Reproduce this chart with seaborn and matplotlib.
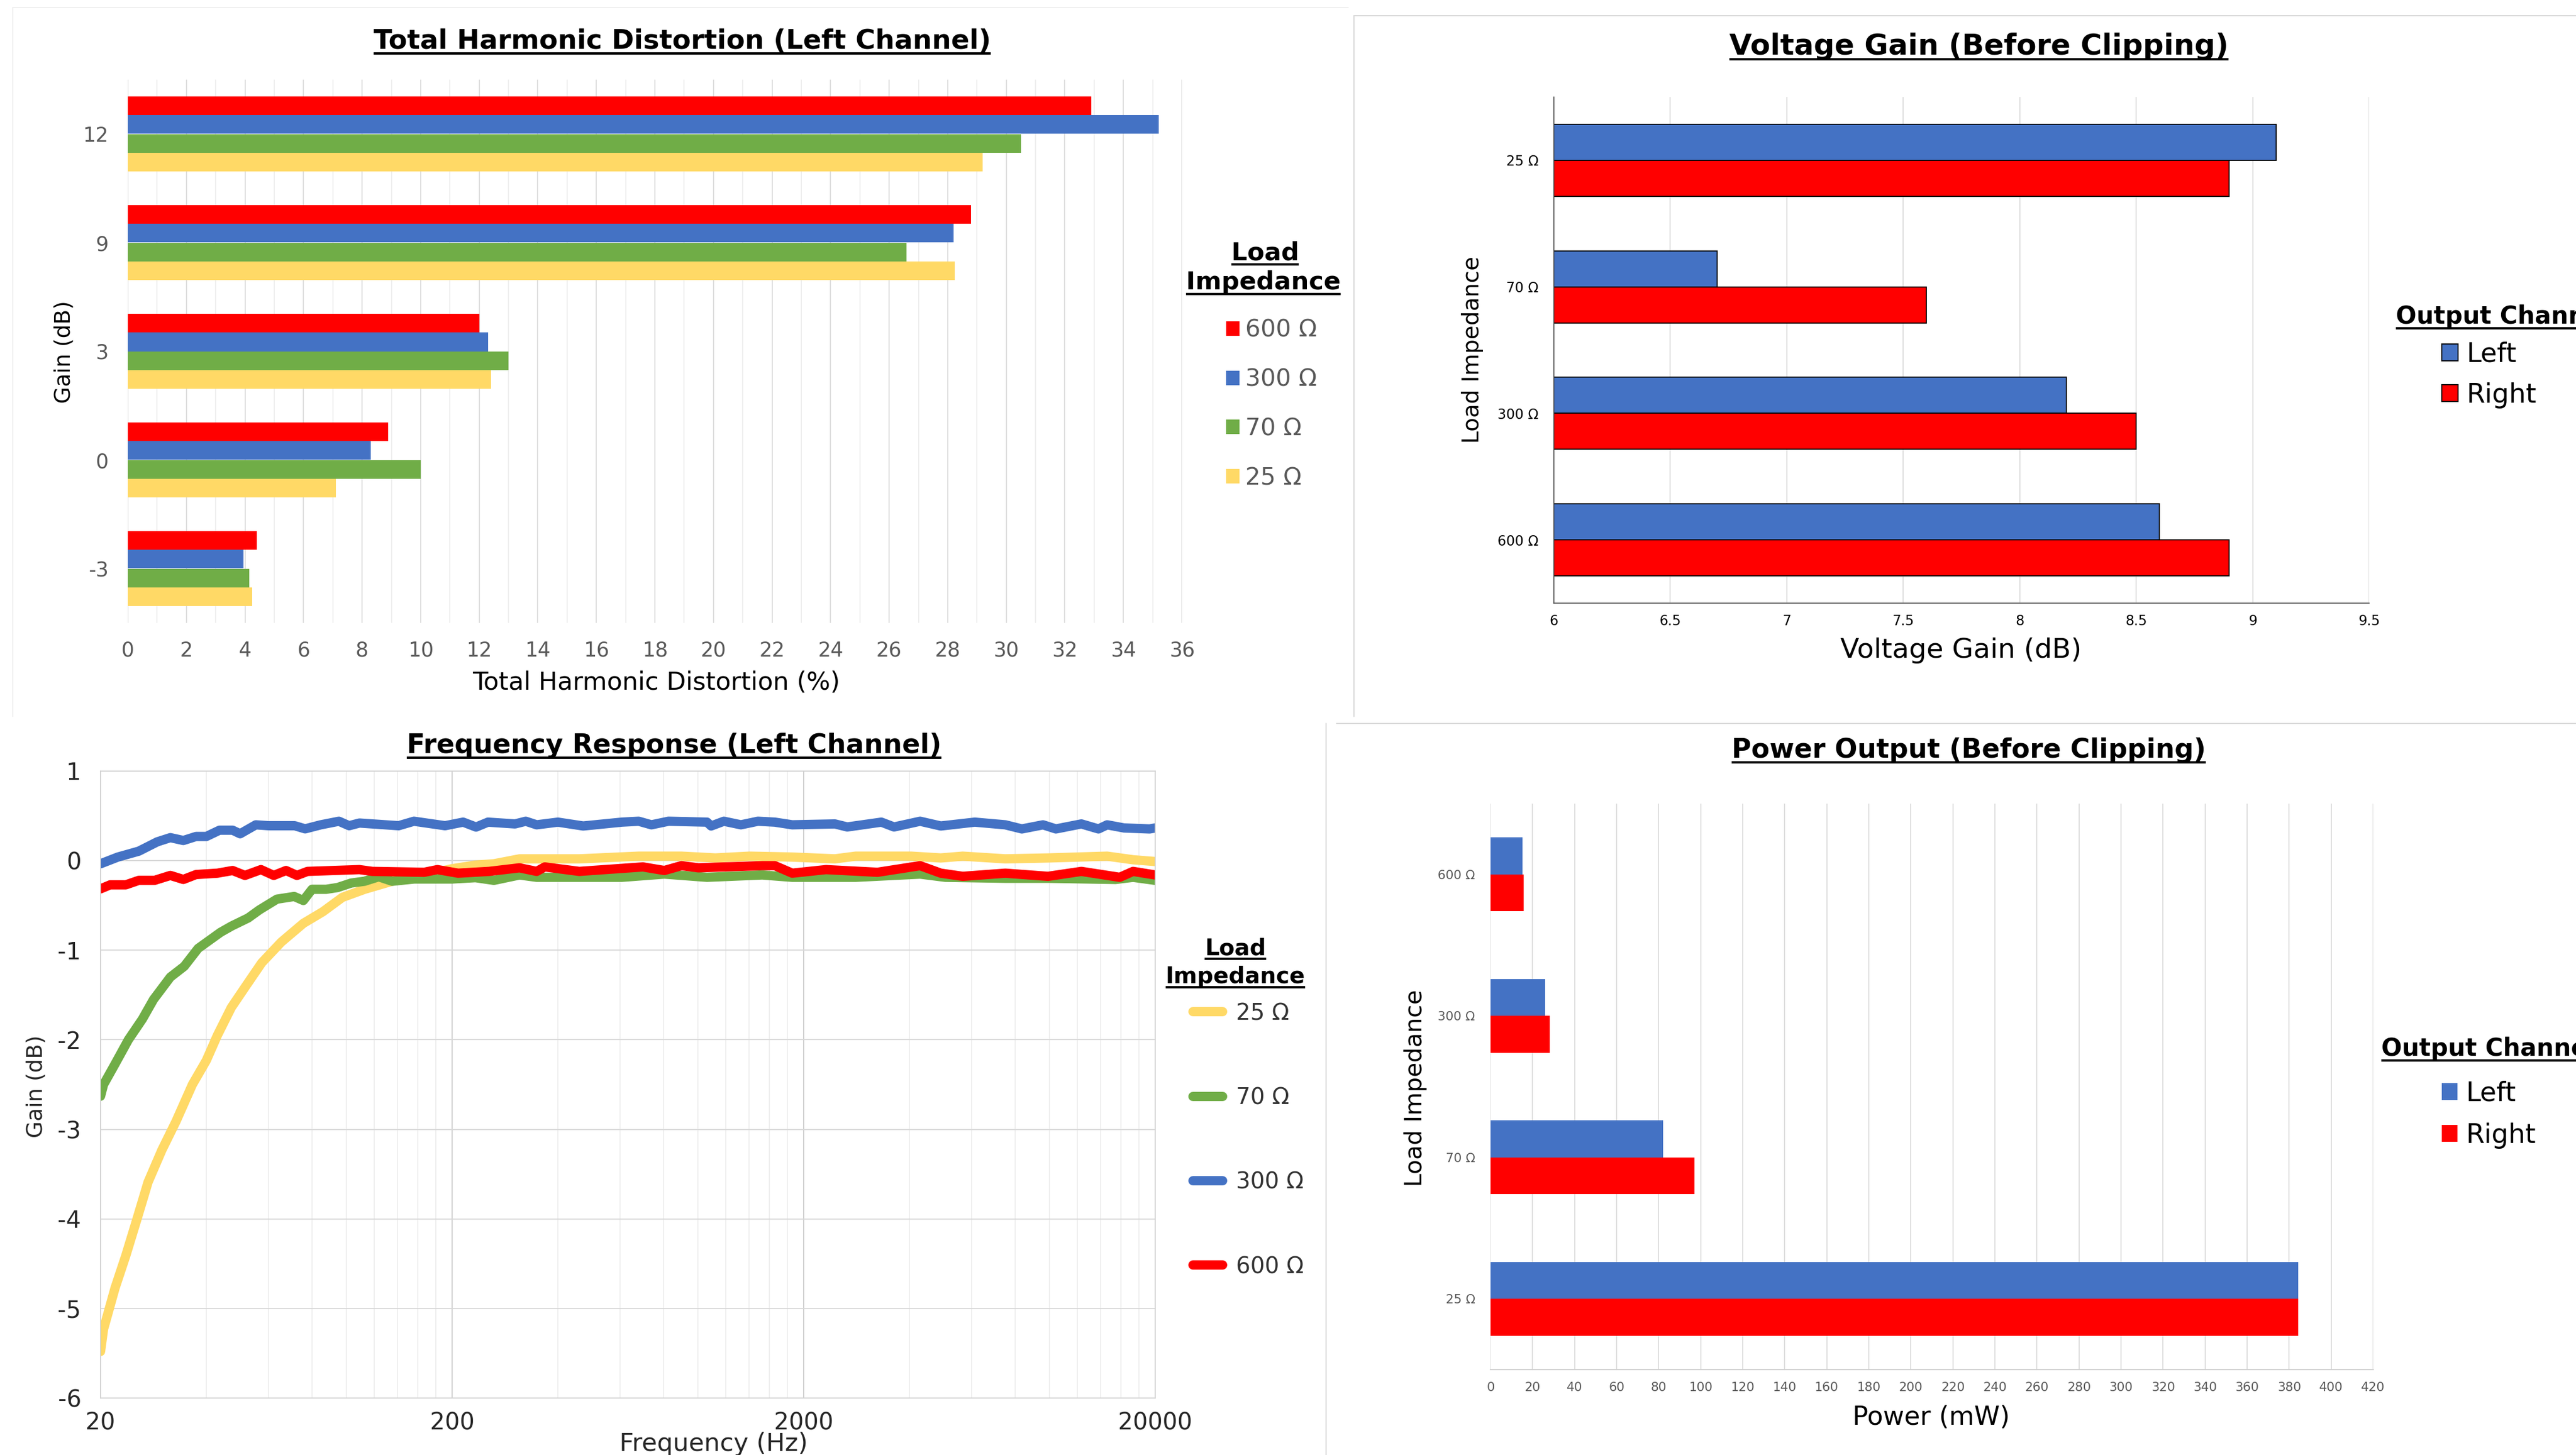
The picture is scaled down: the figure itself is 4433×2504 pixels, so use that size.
import numpy as np
import pandas as pd
import matplotlib
matplotlib.use("Agg")
import matplotlib.pyplot as plt
import seaborn as sns
from matplotlib.lines import Line2D
from matplotlib.patches import Patch
from matplotlib.ticker import MultipleLocator, FixedLocator, FixedFormatter, NullFormatter

# ---------------- data ----------------
thd_gain_levels = ["12", "9", "3", "0", "-3"]
thd_loads = ["600 Ω", "300 Ω", "70 Ω", "25 Ω"]
thd_600 = [32.9, 28.8, 12.0, 8.9, 4.4]
thd_300 = [35.2, 28.2, 12.3, 8.3, 3.95]
thd_70 = [30.5, 26.6, 13.0, 10.0, 4.15]
thd_25 = [29.2, 28.25, 12.4, 7.1, 4.25]

vg_loads = ["25 Ω", "70 Ω", "300 Ω", "600 Ω"]
vg_left = [9.1, 6.7, 8.2, 8.6]
vg_right = [8.9, 7.6, 8.5, 8.9]

pw_loads = ["600 Ω", "300 Ω", "70 Ω", "25 Ω"]
pw_left = [15.1, 26.0, 82.0, 384.3]
pw_right = [15.8, 28.2, 97.1, 384.3]

fr_loads = ["25 Ω", "70 Ω", "300 Ω", "600 Ω"]
fr25_f = [20, 20.4, 22.0, 23.6, 25.4, 27.3, 29.9, 32.8, 36.5, 40.0, 43.0, 47.1, 51.6, 57.5,
          65.3, 75.5, 85.8, 97.5, 112.7, 135, 162, 200, 233, 263, 311, 367, 460, 679, 898,
          1122, 1403, 1856, 2454, 2813, 4045, 4910, 5670, 7494, 9910, 14600, 17300, 20000]
fr25_g = [-5.48, -5.23, -4.77, -4.41, -4.00, -3.59, -3.23, -2.91, -2.50, -2.23, -1.95, -1.64,
          -1.41, -1.14, -0.91, -0.70, -0.57, -0.41, -0.32, -0.23, -0.17, -0.09, -0.05, -0.035,
          0.02, 0.02, 0.02, 0.05, 0.05, 0.03, 0.05, 0.04, 0.02, 0.05, 0.05, 0.03, 0.05, 0.02,
          0.03, 0.05, 0.01, -0.01]
fr70_f = [20, 20.4, 22.0, 24.0, 26.3, 28.3, 31.6, 34.6, 37.9, 43.9, 47.2, 52.6, 56.6, 63.5,
          71.1, 75.5, 79.9, 87.6, 94.5, 103.3, 112.7, 123.7, 135.1, 156, 200, 233, 263, 311,
          348, 608, 803, 1062, 1525, 1856, 2813, 4288, 5060, 7494, 9910, 15420, 17300, 20000]
fr70_g = [-2.63, -2.50, -2.27, -2.00, -1.77, -1.55, -1.30, -1.18, -0.98, -0.80, -0.73, -0.64,
          -0.55, -0.43, -0.40, -0.445, -0.32, -0.32, -0.30, -0.25, -0.23, -0.18, -0.23, -0.205,
          -0.205, -0.19, -0.22, -0.16, -0.186, -0.186, -0.15, -0.186, -0.16, -0.186, -0.186,
          -0.15, -0.186, -0.197, -0.197, -0.21, -0.186, -0.22]
fr300_f = [20, 22.4, 25.7, 29.0, 31.6, 34.4, 37.4, 40.0, 43.6, 47.5, 49.9, 55.3, 60.2, 71.3,
           76.4, 84.6, 95.3, 101.9, 109, 140.9, 155.8, 191, 215, 234, 253, 302, 324, 348, 400,
           472, 608, 679, 738, 825, 1062, 1091, 1186, 1326, 1482, 1656, 1856, 2454, 2661, 3327,
           3615, 4288, 4910, 6137, 7494, 8350, 9590, 10436, 12330, 13790, 14600, 16300, 19280,
           20000]
fr300_g = [-0.035, 0.04, 0.106, 0.21, 0.257, 0.225, 0.27, 0.27, 0.34, 0.34, 0.30, 0.40, 0.39,
           0.39, 0.355, 0.40, 0.44, 0.39, 0.42, 0.39, 0.44, 0.39, 0.43, 0.375, 0.43, 0.41, 0.44,
           0.40, 0.43, 0.387, 0.43, 0.44, 0.40, 0.44, 0.43, 0.387, 0.44, 0.40, 0.44, 0.43, 0.40,
           0.41, 0.376, 0.43, 0.376, 0.44, 0.387, 0.43, 0.40, 0.354, 0.40, 0.354, 0.41, 0.354,
           0.40, 0.365, 0.354, 0.365]
fr600_f = [20, 21.3, 23.6, 25.7, 28.5, 31.6, 34.4, 37.4, 43.0, 47.5, 51.5, 57.2, 62.2, 67.4,
           72.4, 77.6, 109, 118.7, 166.6, 181.7, 208, 255, 311, 348, 367, 460, 642, 698, 803,
           898, 1003, 1525, 1656, 1856, 2316, 3244, 4288, 4910, 5670, 7494, 9910, 12330, 15850,
           17300, 20000]
fr600_g = [-0.315, -0.27, -0.27, -0.22, -0.22, -0.165, -0.21, -0.155, -0.14, -0.11, -0.165,
           -0.10, -0.165, -0.11, -0.165, -0.12, -0.10, -0.12, -0.13, -0.10, -0.14, -0.12, -0.08,
           -0.12, -0.07, -0.12, -0.08, -0.07, -0.11, -0.056, -0.08, -0.056, -0.056, -0.14, -0.10,
           -0.13, -0.056, -0.14, -0.175, -0.14, -0.175, -0.12, -0.186, -0.12, -0.16]

fr_xticks = [20, 200, 2000, 20000]
fr_xticklabels = ["20", "200", "2000", "20000"]

# ---------------- style ----------------
RED, BLUE, GREEN, YELLOW = "#FF0000", "#4472C4", "#70AD47", "#FFD966"
sns.set_theme(style="white")
plt.rcParams["font.family"] = ["DejaVu Sans"]
plt.rcParams["axes.unicode_minus"] = False

W, H = 4433, 2504
fig = plt.figure(figsize=(W / 100, H / 100), dpi=100)
fig.patch.set_facecolor("white")


def add_ax(rect):
    x0, y0, x1, y1 = rect
    return fig.add_axes([x0 / W, 1 - y1 / H, (x1 - x0) / W, (y1 - y0) / H])


def place_label(ax, rect, which, px, py):
    x0, y0, x1, y1 = rect
    fx = (px - x0) / (x1 - x0)
    fy = (y1 - py) / (y1 - y0)
    if which == "x":
        ax.xaxis.set_label_coords(fx, fy)
        ax.xaxis.label.set_va("center")
        ax.xaxis.label.set_ha("center")
    else:
        ax.yaxis.set_label_coords(fx, fy)
        ax.yaxis.label.set_va("center")
        ax.yaxis.label.set_ha("center")


underlines = []


def utext(x, yb, s, size, ha="center", off=8, thick=4):
    t = fig.text(x / W, 1 - yb / H, s, fontsize=size, fontweight="bold", ha=ha,
                 va="baseline", color="black")
    underlines.append((t, yb + off, thick))
    return t


def legend_px(ax, handles, labels, left, center, fs, spacing, hl, hh, pad, color):
    leg = ax.legend(handles, labels, loc="center left",
                    bbox_to_anchor=(left / W, 1 - center / H), bbox_transform=fig.transFigure,
                    frameon=False, fontsize=fs, labelspacing=spacing, handlelength=hl,
                    handleheight=hh, handletextpad=pad, borderpad=0, borderaxespad=0)
    for t in leg.get_texts():
        t.set_color(color)
    return leg


# ---------------- panel borders ----------------
def fline(xs, ys, color="#d9d9d9", lw=2):
    fig.add_artist(Line2D([x / W for x in xs], [1 - y / H for y in ys], color=color,
                          lw=lw * 0.72, transform=fig.transFigure))


fline([22, 22], [13, 1233], color="#efefef")
fline([22, 2320], [13, 13], color="#efefef")
fline([2330, W], [27, 27])
fline([2330, 2330], [27, 1233])
fline([2300, W], [1245, 1245])
fline([2282, 2282], [1245, H])

# ---------------- THD chart ----------------
r1 = (220, 137, 2034, 1072)
ax1 = add_ax(r1)
thd_df = pd.DataFrame({
    "gain": thd_gain_levels * 4,
    "load": [l for l in thd_loads for _ in thd_gain_levels],
    "thd": thd_600 + thd_300 + thd_70 + thd_25,
})
thd_pal = dict(zip(thd_loads, [RED, BLUE, GREEN, YELLOW]))
sns.barplot(data=thd_df, x="thd", y="gain", hue="load", order=thd_gain_levels,
            hue_order=thd_loads, palette=thd_pal, orient="h", width=0.69, saturation=1,
            linewidth=0, errorbar=None, legend=False, ax=ax1)
ax1.set_xlim(0, 36)
ax1.set_ylim(4.5, -0.5)
ax1.xaxis.set_major_locator(MultipleLocator(2))
ax1.xaxis.set_minor_locator(MultipleLocator(1))
ax1.grid(axis="x", which="major", color="#d9d9d9", lw=1.2)
ax1.grid(axis="x", which="minor", color="#ececec", lw=1.2)
ax1.set_axisbelow(True)
for s in ax1.spines.values():
    s.set_visible(False)
ax1.tick_params(axis="both", which="both", length=0, labelsize=25, labelcolor="#595959")
ax1.tick_params(axis="x", pad=22)
ax1.tick_params(axis="y", pad=24)
ax1.set_xlabel("Total Harmonic Distortion (%)", fontsize=31, color="black")
ax1.set_ylabel("Gain (dB)", fontsize=27, color="black")
place_label(ax1, r1, "x", 1129, 1175)
place_label(ax1, r1, "y", 110, 606)
utext(1174, 84, "Total Harmonic Distortion (Left Channel)", 33.5)
utext(2177, 447, "Load", 31)
utext(2174, 498, "Impedance", 31)
legend_px(ax1, [Patch(facecolor=thd_pal[l], lw=0) for l in thd_loads], thd_loads,
          2110, 696, 29.6, 1.09, 0.56, 0.56, 0.24, "#595959")

# ---------------- Voltage gain chart ----------------
r2 = (2674, 167, 4077, 1038)
ax2 = add_ax(r2)
vg_df = pd.DataFrame({
    "load": vg_loads * 2,
    "channel": ["Left"] * 4 + ["Right"] * 4,
    "gain": vg_left + vg_right,
})
ch_pal = {"Left": BLUE, "Right": RED}
sns.barplot(data=vg_df, x="gain", y="load", hue="channel", order=vg_loads,
            hue_order=["Left", "Right"], palette=ch_pal, orient="h", width=0.57,
            saturation=1, edgecolor="black", linewidth=1.3, errorbar=None, legend=False, ax=ax2)
ax2.set_xlim(6, 9.5)
ax2.set_ylim(3.5, -0.5)
ax2.xaxis.set_major_locator(MultipleLocator(0.5))
ax2.xaxis.set_minor_locator(MultipleLocator(0.25))
ax2.xaxis.set_major_formatter(matplotlib.ticker.FuncFormatter(lambda v, p: f"{v:g}"))
ax2.grid(axis="x", which="major", color="#d9d9d9", lw=1.2)
ax2.set_axisbelow(True)
for k in ["top", "right"]:
    ax2.spines[k].set_visible(False)
for k in ["left", "bottom"]:
    ax2.spines[k].set_color("#404040")
    ax2.spines[k].set_linewidth(1.1)
ax2.tick_params(axis="x", which="both", direction="in", length=7, width=1.1, color="#404040",
                labelsize=17, labelcolor="black", pad=14)
ax2.tick_params(axis="y", length=0, labelsize=17, labelcolor="black", pad=19)
ax2.set_xlabel("Voltage Gain (dB)", fontsize=34, color="black")
ax2.set_ylabel("Load Impedance", fontsize=28, color="black")
place_label(ax2, r2, "x", 3375, 1120)
place_label(ax2, r2, "y", 2534, 602)
utext(3405, 94, "Voltage Gain (Before Clipping)", 36)
utext(4123, 557, "Output Channel", 30, ha="left")
legend_px(ax2, [Patch(facecolor=ch_pal[c], edgecolor="black", lw=1.3) for c in ["Left", "Right"]],
          ["Left", "Right"], 4202, 645, 33, 0.55, 0.6, 0.6, 0.33, "black")

# ---------------- Frequency response chart ----------------
r3 = (173, 1327, 1988, 2406)
ax3 = add_ax(r3)
fr_df = pd.concat([
    pd.DataFrame({"freq": fr25_f, "gain": fr25_g, "load": "25 Ω"}),
    pd.DataFrame({"freq": fr70_f, "gain": fr70_g, "load": "70 Ω"}),
    pd.DataFrame({"freq": fr300_f, "gain": fr300_g, "load": "300 Ω"}),
    pd.DataFrame({"freq": fr600_f, "gain": fr600_g, "load": "600 Ω"}),
], ignore_index=True)
fr_pal = dict(zip(fr_loads, [YELLOW, GREEN, BLUE, RED]))
LW = 11.5
ax3.set_xscale("log")
sns.lineplot(data=fr_df, x="freq", y="gain", hue="load", hue_order=fr_loads, palette=fr_pal,
             linewidth=LW, estimator=None, sort=False, legend=False, ax=ax3,
             solid_capstyle="round", solid_joinstyle="round")
ax3.set_xlim(20, 20000)
ax3.set_ylim(-6, 1)
ax3.xaxis.set_major_locator(FixedLocator(fr_xticks))
ax3.xaxis.set_major_formatter(FixedFormatter(fr_xticklabels))
minor_pos = [20 * k * 10 ** d for d in range(3) for k in range(2, 10)]
ax3.xaxis.set_minor_locator(FixedLocator(minor_pos))
ax3.xaxis.set_minor_formatter(NullFormatter())
ax3.yaxis.set_major_locator(MultipleLocator(1))
ax3.grid(axis="x", which="major", color="#d0d0d0", lw=1.4)
ax3.grid(axis="x", which="minor", color="#ececec", lw=1.2)
ax3.grid(axis="y", which="major", color="#d9d9d9", lw=1.4)
ax3.set_axisbelow(True)
for s in ax3.spines.values():
    s.set_color("#d0d0d0")
    s.set_linewidth(1.2)
ax3.tick_params(axis="both", which="both", length=0, labelsize=29, labelcolor="#262626")
ax3.tick_params(axis="x", pad=17)
ax3.tick_params(axis="y", pad=24)
ax3.set_xlabel("Frequency (Hz)", fontsize=31, color="#262626")
ax3.set_ylabel("Gain (dB)", fontsize=27, color="#262626")
place_label(ax3, r3, "x", 1228, 2485)
place_label(ax3, r3, "y", 62, 1870)
utext(1160, 1296, "Frequency Response (Left Channel)", 33)
utext(2126, 1643, "Load", 28, off=7)
utext(2126, 1692, "Impedance", 28, off=7)
legend_px(ax3, [Line2D([0], [0], color=fr_pal[l], lw=LW, solid_capstyle="round") for l in fr_loads],
          fr_loads, 2053, 1962, 28, 2.76, 1.3, 0.7, 0.6, "#333333")

# ---------------- Power output chart ----------------
r4 = (2565, 1383, 4084, 2357)
ax4 = add_ax(r4)
pw_df = pd.DataFrame({
    "load": pw_loads * 2,
    "channel": ["Left"] * 4 + ["Right"] * 4,
    "power": pw_left + pw_right,
})
sns.barplot(data=pw_df, x="power", y="load", hue="channel", order=pw_loads,
            hue_order=["Left", "Right"], palette=ch_pal, orient="h", width=0.52,
            saturation=1, linewidth=0, errorbar=None, legend=False, ax=ax4)
ax4.set_xlim(0, 420)
ax4.set_ylim(3.5, -0.5)
ax4.xaxis.set_major_locator(MultipleLocator(20))
ax4.grid(axis="x", which="major", color="#d9d9d9", lw=1.2)
ax4.set_axisbelow(True)
for k in ["top", "right", "left"]:
    ax4.spines[k].set_visible(False)
ax4.spines["bottom"].set_color("#d0d0d0")
ax4.spines["bottom"].set_linewidth(1.6)
ax4.tick_params(axis="both", length=0, labelsize=15.5, labelcolor="#595959")
ax4.tick_params(axis="x", pad=15)
ax4.tick_params(axis="y", pad=19)
ax4.set_xlabel("Power (mW)", fontsize=32, color="black")
ax4.set_ylabel("Load Impedance", fontsize=29.4, color="black")
place_label(ax4, r4, "x", 3323, 2440)
place_label(ax4, r4, "y", 2436, 1872)
utext(3388, 1304, "Power Output (Before Clipping)", 33)
utext(4098, 1817, "Output Channel", 30, ha="left")
legend_px(ax4, [Patch(facecolor=ch_pal[c], lw=0) for c in ["Left", "Right"]],
          ["Left", "Right"], 4202, 1918, 33, 0.59, 0.59, 0.59, 0.31, "black")

# ---------------- underlines ----------------
fig.canvas.draw()
renderer = fig.canvas.get_renderer()
for t, yu, th in underlines:
    bb = t.get_window_extent(renderer)
    fig.add_artist(Line2D([bb.x0 / W, bb.x1 / W], [1 - yu / H, 1 - yu / H], color="black",
                          lw=th * 0.72, transform=fig.transFigure, solid_capstyle="butt"))

fig.savefig("out.png", dpi=100, facecolor="white")
